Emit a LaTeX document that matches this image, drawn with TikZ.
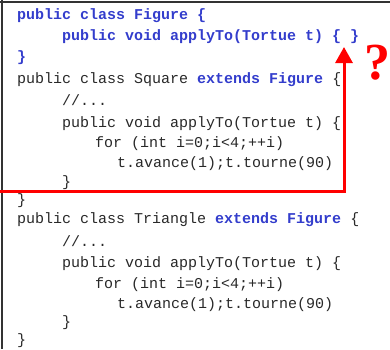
\documentclass[tikz,border=0pt]{standalone}
\usepackage{fontspec}
\setmonofont{Liberation Mono}
\newfontfamily\qfont{Liberation Serif}
\usetikzlibrary{arrows.meta}
\definecolor{kw}{RGB}{51,61,204}
\definecolor{code}{RGB}{40,40,40}
\definecolor{mark}{RGB}{255,0,0}
\tikzset{
  codeline/.style={anchor=base west, inner sep=0pt, text=code,
    font=\ttfamily\fontsize{15}{18}\selectfont},
  kwline/.style={codeline, text=kw, font=\ttfamily\bfseries\fontsize{15}{18}\selectfont},
  frameline/.style={draw=black!80, line width=2pt},
  callout/.style={draw=mark, line width=3pt, -{Triangle[length=16pt,width=17pt]}}
}
\newcommand{\kwd}[1]{{\bfseries\color{kw}#1}}
\begin{document}
\begin{tikzpicture}[x=1pt,y=-1pt]
  \useasboundingbox (0,0) rectangle (390,349);
  % listing frame
  \draw[frameline] (0,1.5) -- (390,1.5);
  \draw[frameline] (1.5,0) -- (1.5,349);
  % class Figure
  \node[kwline] (f1) at (17,19.5) {public class Figure \{};
  \node[kwline] (f2) at (62,40) {public void applyTo(Tortue t) \{ \}};
  \node[kwline] (f3) at (17,61) {\}};
  % class Square
  \node[codeline] (s1) at (17,83) {public class Square \kwd{extends Figure} \{};
  \node[codeline] (s2) at (62,105) {//...};
  \node[codeline] (s3) at (62,127) {public void applyTo(Tortue t) \{};
  \node[codeline] (s4) at (95,147) {for (int i=0;i<4;++i)};
  \node[codeline] (s5) at (117,167) {t.avance(1);t.tourne(90)};
  \node[codeline] (s6) at (62,186) {\}};
  \node[codeline] (s7) at (17,204) {\}};
  % class Triangle
  \node[codeline] (t1) at (17,223) {public class Triangle \kwd{extends Figure} \{};
  \node[codeline] (t2) at (62,246) {//...};
  \node[codeline] (t3) at (62,267) {public void applyTo(Tortue t) \{};
  \node[codeline] (t4) at (95,288) {for (int i=0;i<4;++i)};
  \node[codeline] (t5) at (117,308) {t.avance(1);t.tourne(90)};
  \node[codeline] (t6) at (62,326) {\}};
  \node[codeline] (t7) at (17,344) {\}};
  % callout from the Square body up to the empty method
  \coordinate (c0) at (0,191);
  \coordinate (c1) at (344,191);
  \coordinate (c2) at (344,47);
  \draw[callout] (c0) -- (c1) -- (c2);
  \node[text=mark, inner sep=0pt, font=\qfont\bfseries\fontsize{52}{52}\selectfont] (q) at (377,63) {?};
\end{tikzpicture}
\end{document}
